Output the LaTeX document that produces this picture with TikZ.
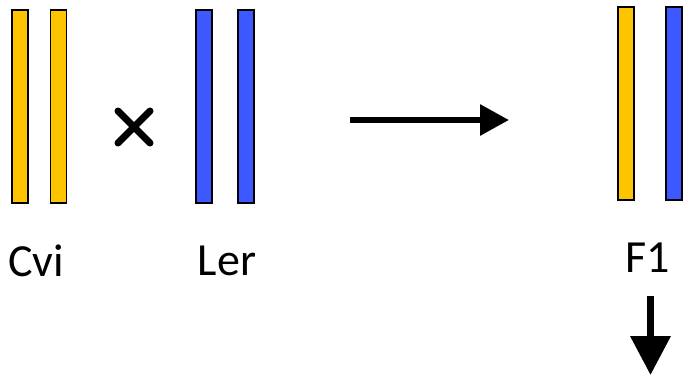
\documentclass[tikz,border=0pt]{standalone}
\usepackage{fontspec}
\setmainfont{Carlito}
\usetikzlibrary{arrows.meta}
\definecolor{cviyellow}{HTML}{FFC400}
\definecolor{lerblue}{HTML}{3D58FF}
\begin{document}
\begin{tikzpicture}[x=1pt, y=-1pt,
  chrom/.style={draw, line width=1.5pt, inner sep=0pt, minimum width=16pt, minimum height=193pt},
  lab/.style={font=\fontsize{46}{54}\selectfont, inner sep=0pt},
  bigarrow/.style={line width=6pt, -{Triangle[length=29pt, width=30pt]}}]
  \useasboundingbox (0,0) rectangle (686,376);
  % parents
  \node[chrom, fill=cviyellow] (c1) at (20,106.5) {};
  \node[chrom, fill=cviyellow] (c2) at (58.5,106.5) {};
  \node[chrom, fill=lerblue] (l1) at (204,106.5) {};
  \node[chrom, fill=lerblue] (l2) at (246,106.5) {};
  \draw[line width=7pt, line cap=round] (118,111) -- (150,143) (118,143) -- (150,111);
  \node[lab] (cvi) at (36,261) {Cvi};
  \node[lab] (ler) at (227,261) {Ler};
  % cross -> F1
  \coordinate (a0) at (350,120);
  \coordinate (a1) at (509,120);
  \draw[bigarrow] (a0) -- (a1);
  \node[chrom, fill=cviyellow] (f1) at (626,103.5) {};
  \node[chrom, fill=lerblue] (f2) at (674,103.5) {};
  \node[lab] (f1lab) at (648,258) {F1};
  \coordinate (d0) at (650.5,296);
  \coordinate (d1) at (650.5,375);
  \draw[line width=7pt, -{Triangle[length=39pt, width=39pt]}] (d0) -- (d1);
\end{tikzpicture}
\end{document}
